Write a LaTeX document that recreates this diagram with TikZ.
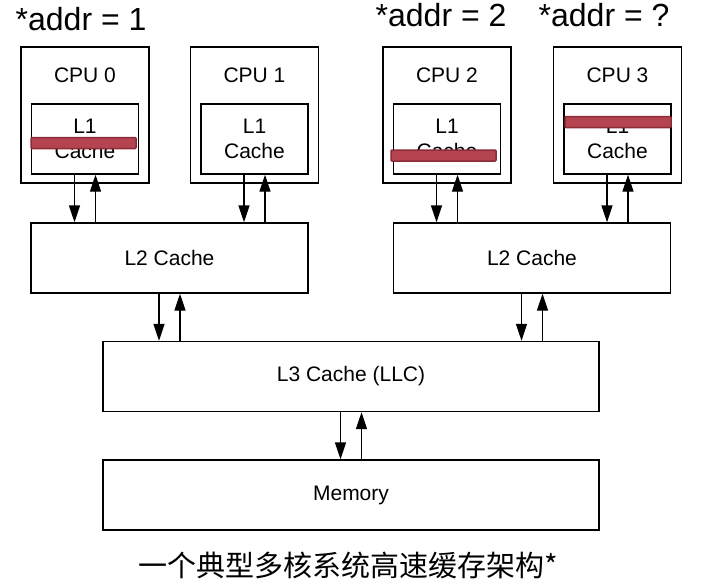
\documentclass[tikz,border=0pt]{standalone}
\usepackage{fontspec}
\setmainfont{Liberation Sans}
\newfontfamily\cjk{Noto Sans CJK SC}
\usetikzlibrary{arrows.meta}

\begin{document}
\begin{tikzpicture}[x=1pt,y=-1pt,line width=1.4pt,>={Triangle[length=17pt,width=11pt]}]
    \tikzstyle{box}=[rectangle,draw=black,fill=white,inner sep=0pt]
    \tikzstyle{txt}=[font=\fontsize{21}{25}\selectfont,align=center]
    \tikzstyle{big}=[font=\fontsize{32}{36}\selectfont,anchor=base west,inner sep=0pt]
    \tikzstyle{strike}=[rectangle,draw={rgb,255:red,140;green,44;blue,56},fill={rgb,255:red,180;green,68;blue,80},line width=1.5pt,rounded corners=1pt,inner sep=0pt,minimum height=11pt]
    \useasboundingbox (0,0) rectangle (706,586);

    \node[big] (val-0) at (15,31) {*addr = 1};
    \node[big] (val-2) at (375,27) {*addr = 2};
    \node[big] (val-3) at (538,27) {*addr = ?};

    \foreach \num/\x in {0/85, 1/254.5, 2/447, 3/617.5}
    {
        \node[box,minimum width=128pt,minimum height=136pt] (CPU-\num) at (\x,115) {};
        \node[txt] (N-\num) at (\x,75) {CPU \num};
        \node[box,txt,minimum width=107pt,minimum height=70pt] (L1-\num) at (\x,139) {L1\\Cache};
    }

    \node[box,txt,minimum width=277pt,minimum height=70pt] (L2-a) at (169.5,258) {L2 Cache};
    \node[box,txt,minimum width=277pt,minimum height=70pt] (L2-b) at (532,258) {L2 Cache};
    \node[box,txt,minimum width=496pt,minimum height=70pt] (L3) at (351,376.5) {L3 Cache (LLC)};
    \node[box,txt,minimum width=496pt,minimum height=70pt] (Mem) at (351,495) {Memory};

    \foreach \num/\lt in {0/a, 1/a, 2/b, 3/b}
    {
        \coordinate (dn-\num) at ([xshift=-10.5pt]L1-\num.south);
        \coordinate (up-\num) at ([xshift=10.5pt]L1-\num.south);
        \draw[->] (dn-\num) -- (dn-\num |- L2-\lt.north);
        \draw[->] (up-\num |- L2-\lt.north) -- (up-\num);
    }

    \foreach \lt in {a,b}
    {
        \coordinate (dn-\lt) at ([xshift=-10.5pt]L2-\lt.south);
        \coordinate (up-\lt) at ([xshift=10.5pt]L2-\lt.south);
        \draw[->] (dn-\lt) -- (dn-\lt |- L3.north);
        \draw[->] (up-\lt |- L3.north) -- (up-\lt);
    }

    \coordinate (dn-m) at ([xshift=-10.5pt]L3.south);
    \coordinate (up-m) at ([xshift=10.5pt]L3.south);
    \draw[->] (dn-m) -- (dn-m |- Mem.north);
    \draw[->] (up-m |- Mem.north) -- (up-m);

    \node[strike,minimum width=105pt] (bar-0) at (83.5,143) {};
    \node[strike,minimum width=105pt] (bar-2) at (443.5,155.5) {};
    \node[strike,minimum width=106pt] (bar-3) at (618,122) {};

    \node[font=\cjk\fontsize{29}{32}\selectfont] (caption) at (348,565) {一个典型多核系统高速缓存架构*};
\end{tikzpicture}
\end{document}
